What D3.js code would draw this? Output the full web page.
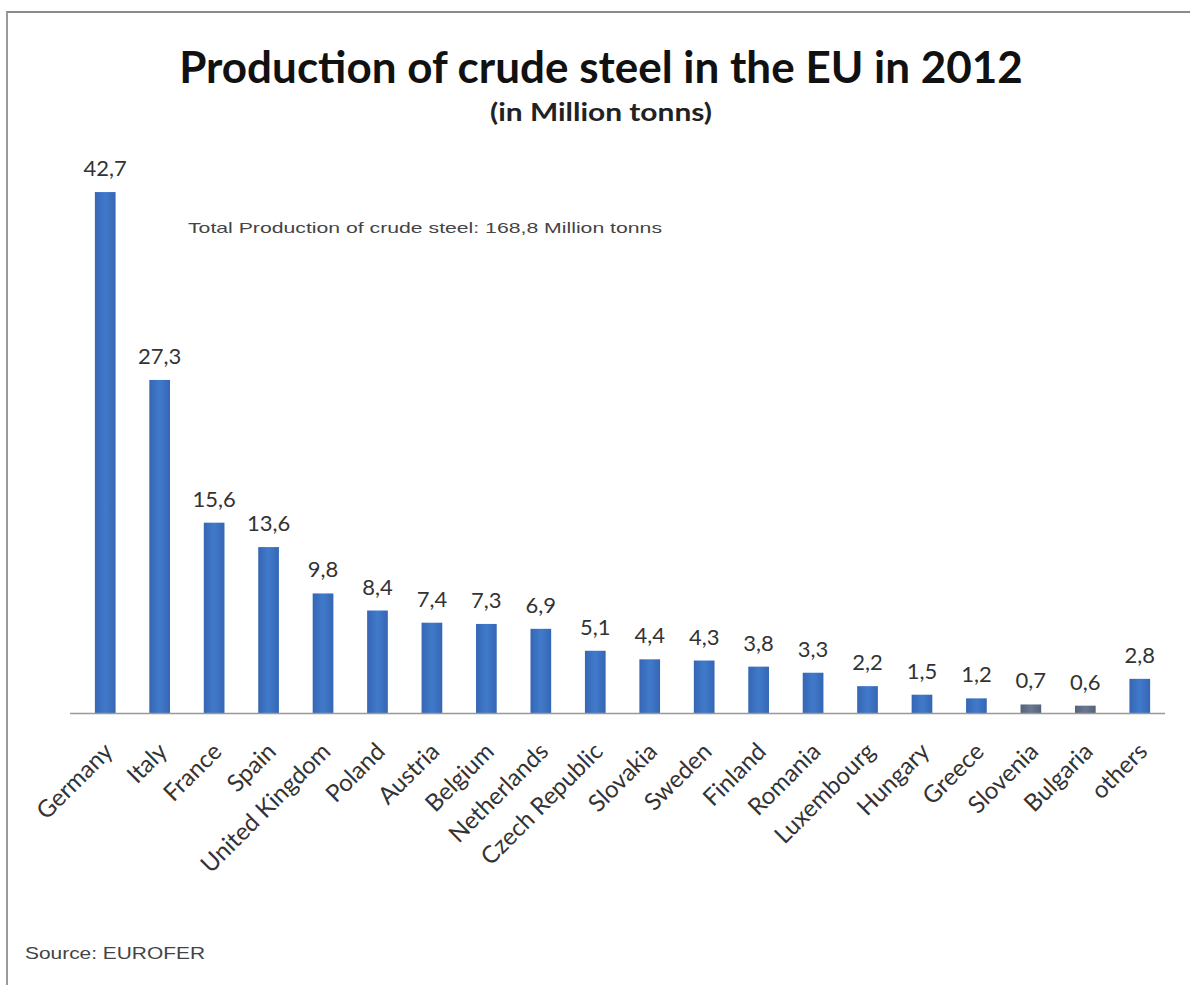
<!DOCTYPE html>
<html>
<head>
<meta charset="utf-8">
<script src="https://cdn.jsdelivr.net/npm/d3@7"></script>
<style>
  html, body { margin: 0; padding: 0; background: #fff; }
  svg { display: block; }
</style>
</head>
<body>
<svg id="chart" width="1190" height="985"></svg>
<script>
// Crude steel production by EU member state, 2012 (million tonnes)
const countries = ["Germany", "Italy", "France", "Spain", "United Kingdom", "Poland",
  "Austria", "Belgium", "Netherlands", "Czech Republic", "Slovakia", "Sweden",
  "Finland", "Romania", "Luxembourg", "Hungary", "Greece", "Slovenia", "Bulgaria", "others"];
const production = [42.7, 27.3, 15.6, 13.6, 9.8, 8.4, 7.4, 7.3, 6.9, 5.1, 4.4, 4.3,
  3.8, 3.3, 2.2, 1.5, 1.2, 0.7, 0.6, 2.8];
const titleText = "Production of crude steel in the EU in 2012";
const subtitleText = "(in Million tonns)";
const noteText = "Total  Production of crude steel:  168,8 Million  tonns";
const sourceText = "Source:  EUROFER";

const data = countries.map((c, i) => ({ country: c, value: production[i] }));

const svg = d3.select("#chart");
const baseY = 713;
const labelFont = "Lato, 'Open Sans', sans-serif";

// frame edges
svg.append("line").attr("x1", 6).attr("x2", 1190).attr("y1", 12).attr("y2", 12)
  .attr("stroke", "#8a8a8a").attr("stroke-width", 2);
svg.append("line").attr("x1", 7).attr("x2", 7).attr("y1", 12).attr("y2", 985)
  .attr("stroke", "#9a9a9a").attr("stroke-width", 2);

const x = d3.scaleBand()
  .domain(countries)
  .range([78, 1167])
  .paddingInner(0.62)
  .paddingOuter(0.31);

const y = d3.scaleLinear().domain([0, 45]).range([baseY, 164]);

// bar gradients (slightly darker at the edges)
const defs = svg.append("defs");
function addGrad(id, edge, mid) {
  const g = defs.append("linearGradient").attr("id", id)
    .attr("x1", "0%").attr("x2", "100%").attr("y1", "0%").attr("y2", "0%");
  g.append("stop").attr("offset", "0%").attr("stop-color", edge);
  g.append("stop").attr("offset", "50%").attr("stop-color", mid);
  g.append("stop").attr("offset", "100%").attr("stop-color", edge);
}
addGrad("barGrad", "#3566b4", "#417acb");
addGrad("barGradSmall", "#55637a", "#6b7890");

// titles
svg.append("text")
  .attr("x", 601).attr("y", 83)
  .attr("text-anchor", "middle")
  .attr("font-family", labelFont)
  .attr("font-weight", "bold")
  .attr("font-size", 44)
  .attr("fill", "#111")
  .text(titleText);

svg.append("text")
  .attr("x", 601).attr("y", 121)
  .attr("text-anchor", "middle")
  .attr("font-family", labelFont)
  .attr("font-weight", "bold")
  .attr("font-size", 25)
  .attr("textLength", 222)
  .attr("lengthAdjust", "spacingAndGlyphs")
  .attr("fill", "#222")
  .text(subtitleText);

svg.append("text")
  .attr("x", 188).attr("y", 233)
  .attr("font-family", "'Liberation Sans', Arial, sans-serif")
  .attr("font-size", 15)
  .attr("textLength", 474)
  .attr("lengthAdjust", "spacingAndGlyphs")
  .attr("fill", "#444")
  .text(noteText);

// bars
svg.append("g").selectAll("rect")
  .data(data)
  .join("rect")
  .attr("x", d => x(d.country))
  .attr("width", x.bandwidth())
  .attr("y", d => y(d.value))
  .attr("height", d => baseY - y(d.value))
  .attr("fill", d => d.value < 1 ? "url(#barGradSmall)" : "url(#barGrad)");

// value labels
svg.append("g").selectAll("text")
  .data(data)
  .join("text")
  .attr("x", d => x(d.country) + x.bandwidth() / 2)
  .attr("y", d => y(d.value) - 16)
  .attr("text-anchor", "middle")
  .attr("font-family", labelFont)
  .attr("font-size", 22)
  .attr("fill", "#333")
  .text(d => d3.format(".1f")(d.value).replace(".", ","));

// category axis
const axis = svg.append("g")
  .attr("transform", `translate(0,${baseY})`)
  .call(d3.axisBottom(x).tickSize(0).tickPadding(0));
axis.select(".domain")
  .attr("d", `M70,0.5H1165`)
  .attr("stroke", "#999")
  .attr("stroke-width", 1.5);
axis.selectAll(".tick text")
  .attr("font-family", labelFont)
  .attr("font-size", 24)
  .attr("fill", "#333")
  .attr("text-anchor", "end")
  .attr("dy", 0)
  .attr("transform", "translate(9,40) rotate(-45)");

svg.append("text")
  .attr("x", 25).attr("y", 959)
  .attr("font-family", "'Liberation Sans', Arial, sans-serif")
  .attr("font-size", 17)
  .attr("textLength", 180)
  .attr("lengthAdjust", "spacingAndGlyphs")
  .attr("fill", "#444")
  .text(sourceText);
</script>
</body>
</html>
